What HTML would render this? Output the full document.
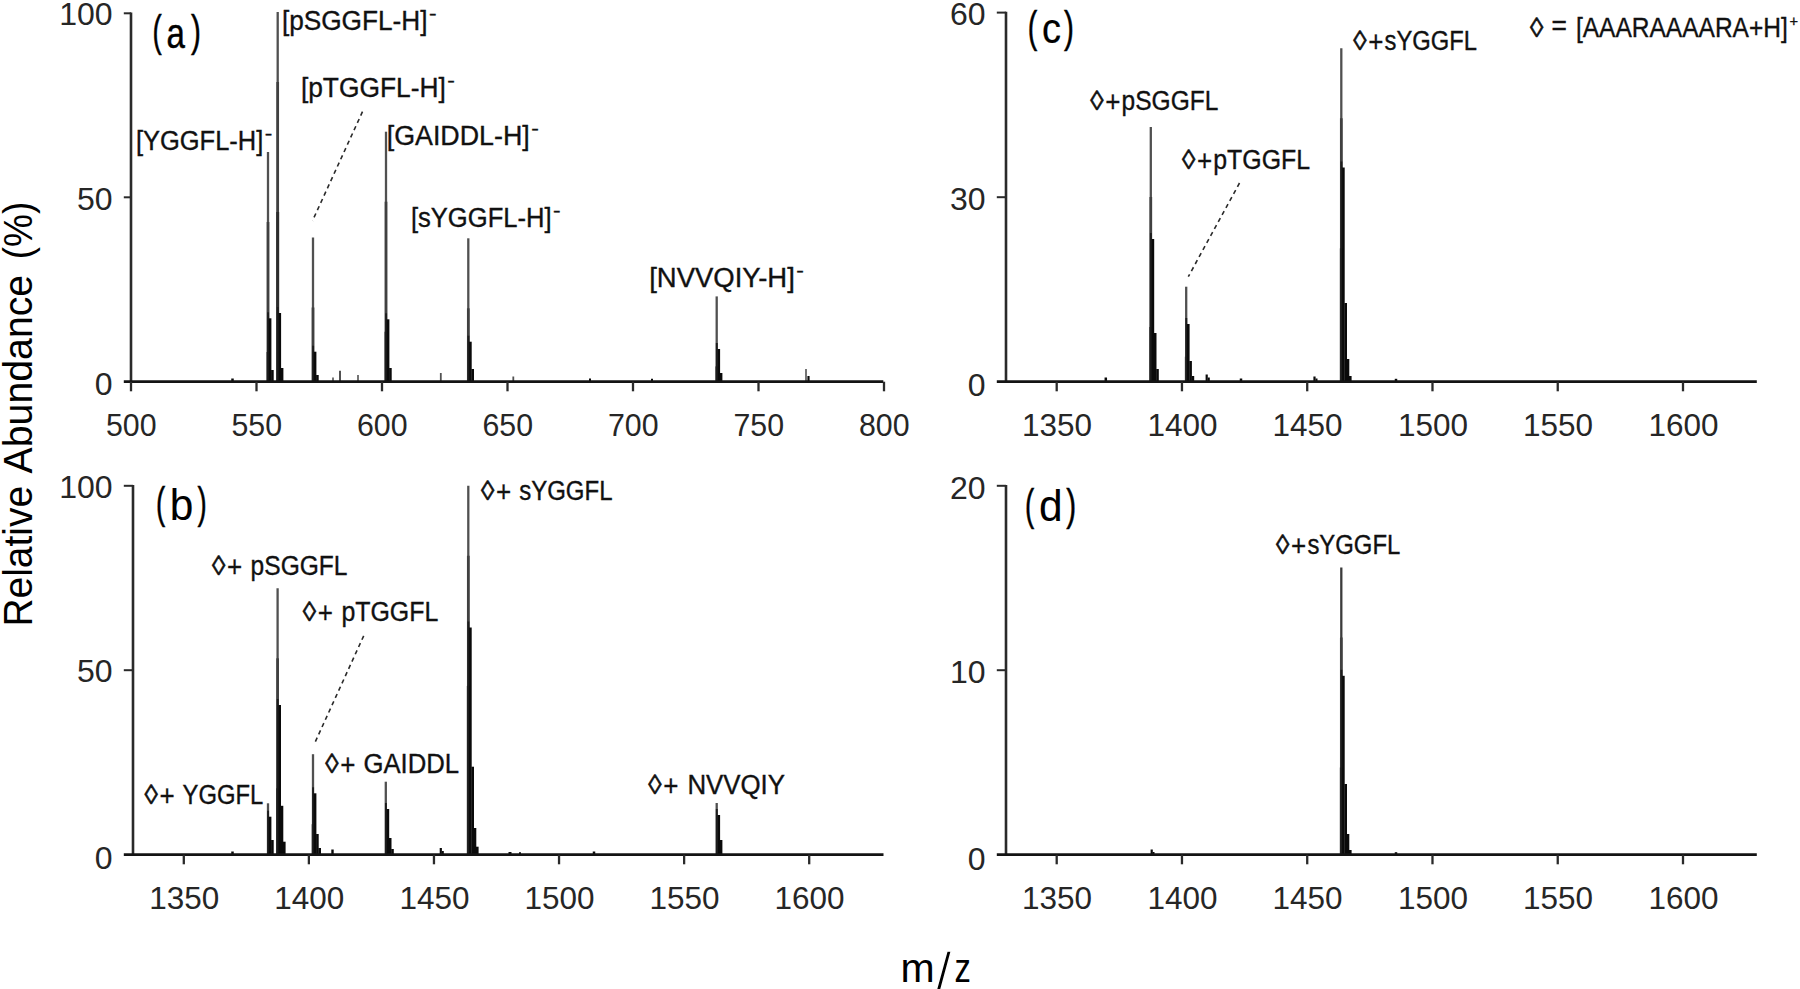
<!DOCTYPE html>
<html lang="en">
<head>
<meta charset="utf-8">
<title>Mass spectra</title>
<style>
html,body{margin:0;padding:0;background:#fff;}
body{width:1800px;height:989px;overflow:hidden;}
svg{display:block;font-family:"Liberation Sans", sans-serif;}
</style>
</head>
<body>
<svg width="1800" height="989" viewBox="0 0 1800 989">
<rect width="1800" height="989" fill="#ffffff"/>
<line x1="268.00" y1="152.00" x2="268.00" y2="381.70" stroke="#505050" stroke-width="2.3" />
<line x1="268.00" y1="222.00" x2="268.00" y2="381.70" stroke="#404040" stroke-width="2.7" />
<line x1="268.00" y1="352.00" x2="268.00" y2="381.70" stroke="#2c2c2c" stroke-width="2.9" />
<line x1="268.10" y1="312.30" x2="268.10" y2="381.70" stroke="#1c1c1c" stroke-width="1.9" />
<line x1="270.10" y1="318.30" x2="270.10" y2="381.70" stroke="#0a0a0a" stroke-width="2.6" />
<line x1="272.40" y1="370.00" x2="272.40" y2="381.70" stroke="#0a0a0a" stroke-width="2.6" />
<line x1="277.70" y1="12.00" x2="277.70" y2="381.70" stroke="#505050" stroke-width="2.3" />
<line x1="277.70" y1="82.00" x2="277.70" y2="381.70" stroke="#404040" stroke-width="2.7" />
<line x1="277.70" y1="212.00" x2="277.70" y2="381.70" stroke="#2c2c2c" stroke-width="2.9" />
<line x1="277.80" y1="307.00" x2="277.80" y2="381.70" stroke="#1c1c1c" stroke-width="1.9" />
<line x1="279.80" y1="313.00" x2="279.80" y2="381.70" stroke="#0a0a0a" stroke-width="2.6" />
<line x1="282.10" y1="368.00" x2="282.10" y2="381.70" stroke="#0a0a0a" stroke-width="2.6" />
<line x1="313.00" y1="237.50" x2="313.00" y2="381.70" stroke="#505050" stroke-width="2.3" />
<line x1="313.00" y1="307.50" x2="313.00" y2="381.70" stroke="#404040" stroke-width="2.7" />
<line x1="313.10" y1="345.70" x2="313.10" y2="381.70" stroke="#1c1c1c" stroke-width="1.9" />
<line x1="315.10" y1="351.70" x2="315.10" y2="381.70" stroke="#0a0a0a" stroke-width="2.6" />
<line x1="317.40" y1="375.00" x2="317.40" y2="381.70" stroke="#0a0a0a" stroke-width="2.6" />
<line x1="386.00" y1="131.70" x2="386.00" y2="381.70" stroke="#505050" stroke-width="2.3" />
<line x1="386.00" y1="201.70" x2="386.00" y2="381.70" stroke="#404040" stroke-width="2.7" />
<line x1="386.00" y1="331.70" x2="386.00" y2="381.70" stroke="#2c2c2c" stroke-width="2.9" />
<line x1="386.10" y1="313.30" x2="386.10" y2="381.70" stroke="#1c1c1c" stroke-width="1.9" />
<line x1="388.10" y1="319.30" x2="388.10" y2="381.70" stroke="#0a0a0a" stroke-width="2.6" />
<line x1="390.40" y1="368.00" x2="390.40" y2="381.70" stroke="#0a0a0a" stroke-width="2.6" />
<line x1="468.30" y1="238.30" x2="468.30" y2="381.70" stroke="#505050" stroke-width="2.3" />
<line x1="468.30" y1="308.30" x2="468.30" y2="381.70" stroke="#404040" stroke-width="2.7" />
<line x1="468.40" y1="335.70" x2="468.40" y2="381.70" stroke="#1c1c1c" stroke-width="1.9" />
<line x1="470.40" y1="341.70" x2="470.40" y2="381.70" stroke="#0a0a0a" stroke-width="2.6" />
<line x1="472.70" y1="369.00" x2="472.70" y2="381.70" stroke="#0a0a0a" stroke-width="2.6" />
<line x1="716.70" y1="296.40" x2="716.70" y2="381.70" stroke="#505050" stroke-width="2.3" />
<line x1="716.70" y1="366.40" x2="716.70" y2="381.70" stroke="#404040" stroke-width="2.7" />
<line x1="716.80" y1="343.00" x2="716.80" y2="381.70" stroke="#1c1c1c" stroke-width="1.9" />
<line x1="718.80" y1="349.00" x2="718.80" y2="381.70" stroke="#0a0a0a" stroke-width="2.6" />
<line x1="721.10" y1="373.00" x2="721.10" y2="381.70" stroke="#0a0a0a" stroke-width="2.6" />
<line x1="806.00" y1="369.00" x2="806.00" y2="381.70" stroke="#525252" stroke-width="1.6" />
<line x1="808.50" y1="376.00" x2="808.50" y2="381.70" stroke="#0a0a0a" stroke-width="2.2" />
<line x1="340.00" y1="370.80" x2="340.00" y2="381.70" stroke="#525252" stroke-width="2.0" />
<line x1="358.00" y1="375.00" x2="358.00" y2="381.70" stroke="#525252" stroke-width="1.6" />
<line x1="333.00" y1="377.50" x2="333.00" y2="381.70" stroke="#525252" stroke-width="1.6" />
<line x1="232.50" y1="378.50" x2="232.50" y2="381.70" stroke="#0a0a0a" stroke-width="2.5" />
<line x1="440.80" y1="373.00" x2="440.80" y2="381.70" stroke="#525252" stroke-width="1.8" />
<line x1="513.30" y1="376.50" x2="513.30" y2="381.70" stroke="#525252" stroke-width="1.8" />
<line x1="590.00" y1="378.50" x2="590.00" y2="381.70" stroke="#0a0a0a" stroke-width="2" />
<line x1="652.00" y1="378.80" x2="652.00" y2="381.70" stroke="#0a0a0a" stroke-width="2" />
<line x1="131.00" y1="12.40" x2="131.00" y2="382.70" stroke="#2a2a2a" stroke-width="2.6" />
<line x1="123.80" y1="381.70" x2="883.30" y2="381.70" stroke="#141414" stroke-width="2.8" />
<line x1="123.80" y1="13.30" x2="131.00" y2="13.30" stroke="#2a2a2a" stroke-width="2.0" />
<text x="112.6" y="25.2" font-size="32" text-anchor="end" fill="#262626" >100</text>
<line x1="123.80" y1="197.30" x2="131.00" y2="197.30" stroke="#2a2a2a" stroke-width="2.0" />
<text x="112.6" y="209.6" font-size="32" text-anchor="end" fill="#262626" >50</text>
<text x="112.6" y="395.4" font-size="32" text-anchor="end" fill="#262626" >0</text>
<line x1="131.00" y1="381.70" x2="131.00" y2="391.30" stroke="#2a2a2a" stroke-width="2.3" />
<text x="106.0" y="435.6" font-size="32" text-anchor="start" fill="#262626" textLength="50.6" lengthAdjust="spacingAndGlyphs" >500</text>
<line x1="256.50" y1="381.70" x2="256.50" y2="391.30" stroke="#2a2a2a" stroke-width="2.3" />
<text x="231.5" y="435.6" font-size="32" text-anchor="start" fill="#262626" textLength="50.6" lengthAdjust="spacingAndGlyphs" >550</text>
<line x1="382.00" y1="381.70" x2="382.00" y2="391.30" stroke="#2a2a2a" stroke-width="2.3" />
<text x="357.0" y="435.6" font-size="32" text-anchor="start" fill="#262626" textLength="50.6" lengthAdjust="spacingAndGlyphs" >600</text>
<line x1="507.50" y1="381.70" x2="507.50" y2="391.30" stroke="#2a2a2a" stroke-width="2.3" />
<text x="482.5" y="435.6" font-size="32" text-anchor="start" fill="#262626" textLength="50.6" lengthAdjust="spacingAndGlyphs" >650</text>
<line x1="633.00" y1="381.70" x2="633.00" y2="391.30" stroke="#2a2a2a" stroke-width="2.3" />
<text x="608.0" y="435.6" font-size="32" text-anchor="start" fill="#262626" textLength="50.6" lengthAdjust="spacingAndGlyphs" >700</text>
<line x1="758.50" y1="381.70" x2="758.50" y2="391.30" stroke="#2a2a2a" stroke-width="2.3" />
<text x="733.5" y="435.6" font-size="32" text-anchor="start" fill="#262626" textLength="50.6" lengthAdjust="spacingAndGlyphs" >750</text>
<line x1="884.00" y1="381.70" x2="884.00" y2="391.30" stroke="#2a2a2a" stroke-width="2.3" />
<text x="859.0" y="435.6" font-size="32" text-anchor="start" fill="#262626" textLength="50.6" lengthAdjust="spacingAndGlyphs" >800</text>
<line x1="268.00" y1="803.30" x2="268.00" y2="854.70" stroke="#505050" stroke-width="2.3" />
<line x1="268.10" y1="810.70" x2="268.10" y2="854.70" stroke="#1c1c1c" stroke-width="1.9" />
<line x1="270.10" y1="816.70" x2="270.10" y2="854.70" stroke="#0a0a0a" stroke-width="2.6" />
<line x1="272.40" y1="840.00" x2="272.40" y2="854.70" stroke="#0a0a0a" stroke-width="2.6" />
<line x1="277.60" y1="588.30" x2="277.60" y2="854.70" stroke="#505050" stroke-width="2.3" />
<line x1="277.60" y1="658.30" x2="277.60" y2="854.70" stroke="#404040" stroke-width="2.7" />
<line x1="277.60" y1="788.30" x2="277.60" y2="854.70" stroke="#2c2c2c" stroke-width="2.9" />
<line x1="277.70" y1="699.00" x2="277.70" y2="854.70" stroke="#1c1c1c" stroke-width="1.9" />
<line x1="279.70" y1="705.00" x2="279.70" y2="854.70" stroke="#0a0a0a" stroke-width="2.6" />
<line x1="282.00" y1="805.80" x2="282.00" y2="854.70" stroke="#0a0a0a" stroke-width="2.6" />
<line x1="284.30" y1="841.70" x2="284.30" y2="854.70" stroke="#0a0a0a" stroke-width="2.6" />
<line x1="313.00" y1="754.20" x2="313.00" y2="854.70" stroke="#505050" stroke-width="2.3" />
<line x1="313.00" y1="824.20" x2="313.00" y2="854.70" stroke="#404040" stroke-width="2.7" />
<line x1="313.10" y1="787.30" x2="313.10" y2="854.70" stroke="#1c1c1c" stroke-width="1.9" />
<line x1="315.10" y1="793.30" x2="315.10" y2="854.70" stroke="#0a0a0a" stroke-width="2.6" />
<line x1="317.40" y1="834.00" x2="317.40" y2="854.70" stroke="#0a0a0a" stroke-width="2.6" />
<line x1="319.70" y1="848.00" x2="319.70" y2="854.70" stroke="#0a0a0a" stroke-width="2.6" />
<line x1="385.80" y1="781.70" x2="385.80" y2="854.70" stroke="#505050" stroke-width="2.3" />
<line x1="385.90" y1="803.00" x2="385.90" y2="854.70" stroke="#1c1c1c" stroke-width="1.9" />
<line x1="387.90" y1="809.00" x2="387.90" y2="854.70" stroke="#0a0a0a" stroke-width="2.6" />
<line x1="390.20" y1="838.00" x2="390.20" y2="854.70" stroke="#0a0a0a" stroke-width="2.6" />
<line x1="392.50" y1="849.00" x2="392.50" y2="854.70" stroke="#0a0a0a" stroke-width="2.6" />
<line x1="468.30" y1="485.80" x2="468.30" y2="854.70" stroke="#505050" stroke-width="2.3" />
<line x1="468.30" y1="555.80" x2="468.30" y2="854.70" stroke="#404040" stroke-width="2.7" />
<line x1="468.30" y1="685.80" x2="468.30" y2="854.70" stroke="#2c2c2c" stroke-width="2.9" />
<line x1="468.40" y1="621.50" x2="468.40" y2="854.70" stroke="#1c1c1c" stroke-width="1.9" />
<line x1="470.40" y1="627.50" x2="470.40" y2="854.70" stroke="#0a0a0a" stroke-width="2.6" />
<line x1="472.70" y1="766.70" x2="472.70" y2="854.70" stroke="#0a0a0a" stroke-width="2.6" />
<line x1="475.00" y1="828.00" x2="475.00" y2="854.70" stroke="#0a0a0a" stroke-width="2.6" />
<line x1="477.30" y1="846.70" x2="477.30" y2="854.70" stroke="#0a0a0a" stroke-width="2.6" />
<line x1="716.70" y1="803.00" x2="716.70" y2="854.70" stroke="#505050" stroke-width="2.3" />
<line x1="716.80" y1="809.00" x2="716.80" y2="854.70" stroke="#1c1c1c" stroke-width="1.9" />
<line x1="718.80" y1="815.00" x2="718.80" y2="854.70" stroke="#0a0a0a" stroke-width="2.6" />
<line x1="721.10" y1="840.00" x2="721.10" y2="854.70" stroke="#0a0a0a" stroke-width="2.6" />
<line x1="332.50" y1="849.50" x2="332.50" y2="854.70" stroke="#0a0a0a" stroke-width="2.4" />
<line x1="440.80" y1="848.00" x2="440.80" y2="854.70" stroke="#0a0a0a" stroke-width="2.2" />
<line x1="442.80" y1="851.00" x2="442.80" y2="854.70" stroke="#0a0a0a" stroke-width="2" />
<line x1="232.50" y1="851.50" x2="232.50" y2="854.70" stroke="#0a0a0a" stroke-width="2.5" />
<line x1="510.00" y1="852.00" x2="510.00" y2="854.70" stroke="#0a0a0a" stroke-width="3" />
<line x1="594.00" y1="851.50" x2="594.00" y2="854.70" stroke="#0a0a0a" stroke-width="2.5" />
<line x1="520.00" y1="852.30" x2="520.00" y2="854.70" stroke="#0a0a0a" stroke-width="2" />
<line x1="133.00" y1="484.90" x2="133.00" y2="855.70" stroke="#2a2a2a" stroke-width="2.6" />
<line x1="123.80" y1="854.70" x2="883.50" y2="854.70" stroke="#141414" stroke-width="2.8" />
<line x1="123.80" y1="485.80" x2="133.00" y2="485.80" stroke="#2a2a2a" stroke-width="2.0" />
<text x="112.6" y="498.0" font-size="32" text-anchor="end" fill="#262626" >100</text>
<line x1="123.80" y1="670.20" x2="133.00" y2="670.20" stroke="#2a2a2a" stroke-width="2.0" />
<text x="112.6" y="682.2" font-size="32" text-anchor="end" fill="#262626" >50</text>
<text x="112.6" y="868.8" font-size="32" text-anchor="end" fill="#262626" >0</text>
<line x1="183.80" y1="854.70" x2="183.80" y2="864.30" stroke="#2a2a2a" stroke-width="2.3" />
<text x="149.2" y="909.3" font-size="32" text-anchor="start" fill="#262626" textLength="70.0" lengthAdjust="spacingAndGlyphs" >1350</text>
<line x1="308.88" y1="854.70" x2="308.88" y2="864.30" stroke="#2a2a2a" stroke-width="2.3" />
<text x="274.3" y="909.3" font-size="32" text-anchor="start" fill="#262626" textLength="70.0" lengthAdjust="spacingAndGlyphs" >1400</text>
<line x1="433.96" y1="854.70" x2="433.96" y2="864.30" stroke="#2a2a2a" stroke-width="2.3" />
<text x="399.4" y="909.3" font-size="32" text-anchor="start" fill="#262626" textLength="70.0" lengthAdjust="spacingAndGlyphs" >1450</text>
<line x1="559.04" y1="854.70" x2="559.04" y2="864.30" stroke="#2a2a2a" stroke-width="2.3" />
<text x="524.4" y="909.3" font-size="32" text-anchor="start" fill="#262626" textLength="70.0" lengthAdjust="spacingAndGlyphs" >1500</text>
<line x1="684.12" y1="854.70" x2="684.12" y2="864.30" stroke="#2a2a2a" stroke-width="2.3" />
<text x="649.5" y="909.3" font-size="32" text-anchor="start" fill="#262626" textLength="70.0" lengthAdjust="spacingAndGlyphs" >1550</text>
<line x1="809.20" y1="854.70" x2="809.20" y2="864.30" stroke="#2a2a2a" stroke-width="2.3" />
<text x="774.6" y="909.3" font-size="32" text-anchor="start" fill="#262626" textLength="70.0" lengthAdjust="spacingAndGlyphs" >1600</text>
<line x1="1150.80" y1="127.00" x2="1150.80" y2="381.70" stroke="#505050" stroke-width="2.3" />
<line x1="1150.80" y1="197.00" x2="1150.80" y2="381.70" stroke="#404040" stroke-width="2.7" />
<line x1="1150.80" y1="327.00" x2="1150.80" y2="381.70" stroke="#2c2c2c" stroke-width="2.9" />
<line x1="1150.90" y1="233.00" x2="1150.90" y2="381.70" stroke="#1c1c1c" stroke-width="1.9" />
<line x1="1152.90" y1="239.00" x2="1152.90" y2="381.70" stroke="#0a0a0a" stroke-width="2.6" />
<line x1="1155.20" y1="333.00" x2="1155.20" y2="381.70" stroke="#0a0a0a" stroke-width="2.6" />
<line x1="1157.50" y1="369.00" x2="1157.50" y2="381.70" stroke="#0a0a0a" stroke-width="2.6" />
<line x1="1186.20" y1="286.70" x2="1186.20" y2="381.70" stroke="#505050" stroke-width="2.3" />
<line x1="1186.20" y1="356.70" x2="1186.20" y2="381.70" stroke="#404040" stroke-width="2.7" />
<line x1="1186.30" y1="318.00" x2="1186.30" y2="381.70" stroke="#1c1c1c" stroke-width="1.9" />
<line x1="1188.30" y1="324.00" x2="1188.30" y2="381.70" stroke="#0a0a0a" stroke-width="2.6" />
<line x1="1190.60" y1="361.00" x2="1190.60" y2="381.70" stroke="#0a0a0a" stroke-width="2.6" />
<line x1="1192.90" y1="376.00" x2="1192.90" y2="381.70" stroke="#0a0a0a" stroke-width="2.6" />
<line x1="1341.30" y1="48.30" x2="1341.30" y2="381.70" stroke="#505050" stroke-width="2.3" />
<line x1="1341.30" y1="118.30" x2="1341.30" y2="381.70" stroke="#404040" stroke-width="2.7" />
<line x1="1341.30" y1="248.30" x2="1341.30" y2="381.70" stroke="#2c2c2c" stroke-width="2.9" />
<line x1="1341.40" y1="161.50" x2="1341.40" y2="381.70" stroke="#1c1c1c" stroke-width="1.9" />
<line x1="1343.40" y1="167.50" x2="1343.40" y2="381.70" stroke="#0a0a0a" stroke-width="2.6" />
<line x1="1345.70" y1="303.00" x2="1345.70" y2="381.70" stroke="#0a0a0a" stroke-width="2.6" />
<line x1="1348.00" y1="359.00" x2="1348.00" y2="381.70" stroke="#0a0a0a" stroke-width="2.6" />
<line x1="1350.30" y1="376.00" x2="1350.30" y2="381.70" stroke="#0a0a0a" stroke-width="2.6" />
<line x1="1105.80" y1="377.50" x2="1105.80" y2="381.70" stroke="#0a0a0a" stroke-width="2.5" />
<line x1="1206.70" y1="374.50" x2="1206.70" y2="381.70" stroke="#0a0a0a" stroke-width="2.2" />
<line x1="1208.80" y1="377.50" x2="1208.80" y2="381.70" stroke="#0a0a0a" stroke-width="2" />
<line x1="1241.00" y1="378.50" x2="1241.00" y2="381.70" stroke="#0a0a0a" stroke-width="2.5" />
<line x1="1314.50" y1="376.50" x2="1314.50" y2="381.70" stroke="#0a0a0a" stroke-width="2.2" />
<line x1="1316.50" y1="378.50" x2="1316.50" y2="381.70" stroke="#0a0a0a" stroke-width="2" />
<line x1="1396.00" y1="378.80" x2="1396.00" y2="381.70" stroke="#0a0a0a" stroke-width="2.5" />
<line x1="1006.00" y1="11.70" x2="1006.00" y2="382.70" stroke="#2a2a2a" stroke-width="2.6" />
<line x1="996.80" y1="381.70" x2="1756.80" y2="381.70" stroke="#141414" stroke-width="2.8" />
<line x1="996.80" y1="12.60" x2="1006.00" y2="12.60" stroke="#2a2a2a" stroke-width="2.0" />
<text x="985.6" y="25.3" font-size="32" text-anchor="end" fill="#262626" >60</text>
<line x1="996.80" y1="197.20" x2="1006.00" y2="197.20" stroke="#2a2a2a" stroke-width="2.0" />
<text x="985.6" y="210.0" font-size="32" text-anchor="end" fill="#262626" >30</text>
<text x="985.6" y="396.2" font-size="32" text-anchor="end" fill="#262626" >0</text>
<line x1="1056.70" y1="381.70" x2="1056.70" y2="391.30" stroke="#2a2a2a" stroke-width="2.3" />
<text x="1022.1" y="436.3" font-size="32" text-anchor="start" fill="#262626" textLength="70.0" lengthAdjust="spacingAndGlyphs" >1350</text>
<line x1="1181.96" y1="381.70" x2="1181.96" y2="391.30" stroke="#2a2a2a" stroke-width="2.3" />
<text x="1147.4" y="436.3" font-size="32" text-anchor="start" fill="#262626" textLength="70.0" lengthAdjust="spacingAndGlyphs" >1400</text>
<line x1="1307.22" y1="381.70" x2="1307.22" y2="391.30" stroke="#2a2a2a" stroke-width="2.3" />
<text x="1272.6" y="436.3" font-size="32" text-anchor="start" fill="#262626" textLength="70.0" lengthAdjust="spacingAndGlyphs" >1450</text>
<line x1="1432.48" y1="381.70" x2="1432.48" y2="391.30" stroke="#2a2a2a" stroke-width="2.3" />
<text x="1397.9" y="436.3" font-size="32" text-anchor="start" fill="#262626" textLength="70.0" lengthAdjust="spacingAndGlyphs" >1500</text>
<line x1="1557.74" y1="381.70" x2="1557.74" y2="391.30" stroke="#2a2a2a" stroke-width="2.3" />
<text x="1523.1" y="436.3" font-size="32" text-anchor="start" fill="#262626" textLength="70.0" lengthAdjust="spacingAndGlyphs" >1550</text>
<line x1="1683.00" y1="381.70" x2="1683.00" y2="391.30" stroke="#2a2a2a" stroke-width="2.3" />
<text x="1648.4" y="436.3" font-size="32" text-anchor="start" fill="#262626" textLength="70.0" lengthAdjust="spacingAndGlyphs" >1600</text>
<line x1="1341.30" y1="567.50" x2="1341.30" y2="854.70" stroke="#3c3c3c" stroke-width="2.3" />
<line x1="1341.30" y1="637.50" x2="1341.30" y2="854.70" stroke="#404040" stroke-width="2.7" />
<line x1="1341.30" y1="767.50" x2="1341.30" y2="854.70" stroke="#2c2c2c" stroke-width="2.9" />
<line x1="1341.40" y1="669.80" x2="1341.40" y2="854.70" stroke="#1c1c1c" stroke-width="1.9" />
<line x1="1343.40" y1="675.80" x2="1343.40" y2="854.70" stroke="#0a0a0a" stroke-width="2.6" />
<line x1="1345.70" y1="784.00" x2="1345.70" y2="854.70" stroke="#0a0a0a" stroke-width="2.6" />
<line x1="1348.00" y1="834.00" x2="1348.00" y2="854.70" stroke="#0a0a0a" stroke-width="2.6" />
<line x1="1350.30" y1="850.00" x2="1350.30" y2="854.70" stroke="#0a0a0a" stroke-width="2.6" />
<line x1="1151.70" y1="849.50" x2="1151.70" y2="854.70" stroke="#0a0a0a" stroke-width="2.2" />
<line x1="1153.50" y1="852.00" x2="1153.50" y2="854.70" stroke="#0a0a0a" stroke-width="2" />
<line x1="1396.00" y1="852.20" x2="1396.00" y2="854.70" stroke="#0a0a0a" stroke-width="2.5" />
<line x1="1006.00" y1="484.90" x2="1006.00" y2="855.70" stroke="#2a2a2a" stroke-width="2.6" />
<line x1="996.80" y1="854.70" x2="1756.80" y2="854.70" stroke="#141414" stroke-width="2.8" />
<line x1="996.80" y1="485.80" x2="1006.00" y2="485.80" stroke="#2a2a2a" stroke-width="2.0" />
<text x="985.6" y="498.7" font-size="32" text-anchor="end" fill="#262626" >20</text>
<line x1="996.80" y1="670.20" x2="1006.00" y2="670.20" stroke="#2a2a2a" stroke-width="2.0" />
<text x="985.6" y="683.2" font-size="32" text-anchor="end" fill="#262626" >10</text>
<text x="985.6" y="869.9" font-size="32" text-anchor="end" fill="#262626" >0</text>
<line x1="1056.70" y1="854.70" x2="1056.70" y2="864.30" stroke="#2a2a2a" stroke-width="2.3" />
<text x="1022.1" y="909.3" font-size="32" text-anchor="start" fill="#262626" textLength="70.0" lengthAdjust="spacingAndGlyphs" >1350</text>
<line x1="1181.96" y1="854.70" x2="1181.96" y2="864.30" stroke="#2a2a2a" stroke-width="2.3" />
<text x="1147.4" y="909.3" font-size="32" text-anchor="start" fill="#262626" textLength="70.0" lengthAdjust="spacingAndGlyphs" >1400</text>
<line x1="1307.22" y1="854.70" x2="1307.22" y2="864.30" stroke="#2a2a2a" stroke-width="2.3" />
<text x="1272.6" y="909.3" font-size="32" text-anchor="start" fill="#262626" textLength="70.0" lengthAdjust="spacingAndGlyphs" >1450</text>
<line x1="1432.48" y1="854.70" x2="1432.48" y2="864.30" stroke="#2a2a2a" stroke-width="2.3" />
<text x="1397.9" y="909.3" font-size="32" text-anchor="start" fill="#262626" textLength="70.0" lengthAdjust="spacingAndGlyphs" >1500</text>
<line x1="1557.74" y1="854.70" x2="1557.74" y2="864.30" stroke="#2a2a2a" stroke-width="2.3" />
<text x="1523.1" y="909.3" font-size="32" text-anchor="start" fill="#262626" textLength="70.0" lengthAdjust="spacingAndGlyphs" >1550</text>
<line x1="1683.00" y1="854.70" x2="1683.00" y2="864.30" stroke="#2a2a2a" stroke-width="2.3" />
<text x="1648.4" y="909.3" font-size="32" text-anchor="start" fill="#262626" textLength="70.0" lengthAdjust="spacingAndGlyphs" >1600</text>
<line x1="362.50" y1="111.70" x2="312.50" y2="220.80" stroke="#2a2a2a" stroke-width="1.6" stroke-dasharray="4.3 3.7"/>
<line x1="363.70" y1="635.80" x2="314.20" y2="744.20" stroke="#2a2a2a" stroke-width="1.6" stroke-dasharray="4.3 3.7"/>
<line x1="1239.50" y1="183.00" x2="1188.30" y2="276.70" stroke="#2a2a2a" stroke-width="1.6" stroke-dasharray="4.3 3.7"/>
<text><tspan x="281.9" y="29.9" font-size="27" text-anchor="start" fill="#111" textLength="145.6" lengthAdjust="spacingAndGlyphs" stroke="#111" stroke-width="0.35">[pSGGFL-H]</tspan><tspan x="428.9" y="18.6" font-size="17" text-anchor="start" fill="#111" textLength="7.6" lengthAdjust="spacingAndGlyphs" stroke="#111" stroke-width="0.3">-</tspan></text>
<text><tspan x="300.9" y="96.9" font-size="27" text-anchor="start" fill="#111" textLength="144.9" lengthAdjust="spacingAndGlyphs" stroke="#111" stroke-width="0.35">[pTGGFL-H]</tspan><tspan x="447.2" y="85.6" font-size="17" text-anchor="start" fill="#111" textLength="7.6" lengthAdjust="spacingAndGlyphs" stroke="#111" stroke-width="0.3">-</tspan></text>
<text><tspan x="135.9" y="150.2" font-size="27" text-anchor="start" fill="#111" textLength="127.4" lengthAdjust="spacingAndGlyphs" stroke="#111" stroke-width="0.35">[YGGFL-H]</tspan><tspan x="264.7" y="138.9" font-size="17" text-anchor="start" fill="#111" textLength="7.6" lengthAdjust="spacingAndGlyphs" stroke="#111" stroke-width="0.3">-</tspan></text>
<text><tspan x="386.7" y="145.2" font-size="27" text-anchor="start" fill="#111" textLength="143.1" lengthAdjust="spacingAndGlyphs" stroke="#111" stroke-width="0.35">[GAIDDL-H]</tspan><tspan x="531.2" y="133.9" font-size="17" text-anchor="start" fill="#111" textLength="7.6" lengthAdjust="spacingAndGlyphs" stroke="#111" stroke-width="0.3">-</tspan></text>
<text><tspan x="410.9" y="226.9" font-size="27" text-anchor="start" fill="#111" textLength="140.7" lengthAdjust="spacingAndGlyphs" stroke="#111" stroke-width="0.35">[sYGGFL-H]</tspan><tspan x="553.0" y="215.6" font-size="17" text-anchor="start" fill="#111" textLength="7.6" lengthAdjust="spacingAndGlyphs" stroke="#111" stroke-width="0.3">-</tspan></text>
<text><tspan x="649.2" y="286.9" font-size="27" text-anchor="start" fill="#111" textLength="145.6" lengthAdjust="spacingAndGlyphs" stroke="#111" stroke-width="0.35">[NVVQIY-H]</tspan><tspan x="796.2" y="275.6" font-size="17" text-anchor="start" fill="#111" textLength="7.6" lengthAdjust="spacingAndGlyphs" stroke="#111" stroke-width="0.3">-</tspan></text>
<text><tspan x="212.0" y="575.0" font-size="27.8" text-anchor="start" fill="#111" textLength="13.3" lengthAdjust="spacingAndGlyphs" stroke="#111" stroke-width="0.6">&#9674;</tspan><tspan x="227.0" y="577.1" font-size="30" text-anchor="start" fill="#111" textLength="15.2" lengthAdjust="spacingAndGlyphs" stroke="#111" stroke-width="0.3">+</tspan><tspan> </tspan><tspan x="250.6" y="575.0" font-size="27" text-anchor="start" fill="#111" textLength="96.9" lengthAdjust="spacingAndGlyphs" stroke="#111" stroke-width="0.35">pSGGFL</tspan></text>
<text><tspan x="302.8" y="621.0" font-size="27.8" text-anchor="start" fill="#111" textLength="13.3" lengthAdjust="spacingAndGlyphs" stroke="#111" stroke-width="0.6">&#9674;</tspan><tspan x="317.8" y="623.1" font-size="30" text-anchor="start" fill="#111" textLength="15.2" lengthAdjust="spacingAndGlyphs" stroke="#111" stroke-width="0.3">+</tspan><tspan> </tspan><tspan x="341.4" y="621.0" font-size="27" text-anchor="start" fill="#111" textLength="96.9" lengthAdjust="spacingAndGlyphs" stroke="#111" stroke-width="0.35">pTGGFL</tspan></text>
<text><tspan x="144.5" y="804.2" font-size="27.8" text-anchor="start" fill="#111" textLength="13.3" lengthAdjust="spacingAndGlyphs" stroke="#111" stroke-width="0.6">&#9674;</tspan><tspan x="159.5" y="806.3" font-size="30" text-anchor="start" fill="#111" textLength="15.2" lengthAdjust="spacingAndGlyphs" stroke="#111" stroke-width="0.3">+</tspan><tspan> </tspan><tspan x="182.6" y="804.2" font-size="27" text-anchor="start" fill="#111" textLength="80.7" lengthAdjust="spacingAndGlyphs" stroke="#111" stroke-width="0.35">YGGFL</tspan></text>
<text><tspan x="325.3" y="773.0" font-size="27.8" text-anchor="start" fill="#111" textLength="13.3" lengthAdjust="spacingAndGlyphs" stroke="#111" stroke-width="0.6">&#9674;</tspan><tspan x="340.3" y="775.1" font-size="30" text-anchor="start" fill="#111" textLength="15.2" lengthAdjust="spacingAndGlyphs" stroke="#111" stroke-width="0.3">+</tspan><tspan> </tspan><tspan x="363.4" y="773.0" font-size="27" text-anchor="start" fill="#111" textLength="95.7" lengthAdjust="spacingAndGlyphs" stroke="#111" stroke-width="0.35">GAIDDL</tspan></text>
<text><tspan x="481.1" y="499.7" font-size="27.8" text-anchor="start" fill="#111" textLength="13.3" lengthAdjust="spacingAndGlyphs" stroke="#111" stroke-width="0.6">&#9674;</tspan><tspan x="496.1" y="501.8" font-size="30" text-anchor="start" fill="#111" textLength="15.2" lengthAdjust="spacingAndGlyphs" stroke="#111" stroke-width="0.3">+</tspan><tspan> </tspan><tspan x="519.2" y="499.7" font-size="27" text-anchor="start" fill="#111" textLength="93.3" lengthAdjust="spacingAndGlyphs" stroke="#111" stroke-width="0.35">sYGGFL</tspan></text>
<text><tspan x="648.3" y="793.7" font-size="27.8" text-anchor="start" fill="#111" textLength="13.3" lengthAdjust="spacingAndGlyphs" stroke="#111" stroke-width="0.6">&#9674;</tspan><tspan x="663.3" y="795.8" font-size="30" text-anchor="start" fill="#111" textLength="15.2" lengthAdjust="spacingAndGlyphs" stroke="#111" stroke-width="0.3">+</tspan><tspan> </tspan><tspan x="687.4" y="793.7" font-size="27" text-anchor="start" fill="#111" textLength="97.6" lengthAdjust="spacingAndGlyphs" stroke="#111" stroke-width="0.35">NVVQIY</tspan></text>
<text><tspan x="1090.3" y="110.0" font-size="27.8" text-anchor="start" fill="#111" textLength="13.3" lengthAdjust="spacingAndGlyphs" stroke="#111" stroke-width="0.6">&#9674;</tspan><tspan x="1105.3" y="112.1" font-size="30" text-anchor="start" fill="#111" textLength="15.2" lengthAdjust="spacingAndGlyphs" stroke="#111" stroke-width="0.3">+</tspan><tspan x="1121.6" y="110.0" font-size="27" text-anchor="start" fill="#111" textLength="96.7" lengthAdjust="spacingAndGlyphs" stroke="#111" stroke-width="0.35">pSGGFL</tspan></text>
<text><tspan x="1182.0" y="169.2" font-size="27.8" text-anchor="start" fill="#111" textLength="13.3" lengthAdjust="spacingAndGlyphs" stroke="#111" stroke-width="0.6">&#9674;</tspan><tspan x="1197.0" y="171.3" font-size="30" text-anchor="start" fill="#111" textLength="15.2" lengthAdjust="spacingAndGlyphs" stroke="#111" stroke-width="0.3">+</tspan><tspan x="1213.3" y="169.2" font-size="27" text-anchor="start" fill="#111" textLength="96.7" lengthAdjust="spacingAndGlyphs" stroke="#111" stroke-width="0.35">pTGGFL</tspan></text>
<text><tspan x="1353.3" y="49.6" font-size="27.8" text-anchor="start" fill="#111" textLength="13.3" lengthAdjust="spacingAndGlyphs" stroke="#111" stroke-width="0.6">&#9674;</tspan><tspan x="1368.3" y="51.7" font-size="30" text-anchor="start" fill="#111" textLength="15.2" lengthAdjust="spacingAndGlyphs" stroke="#111" stroke-width="0.3">+</tspan><tspan x="1384.6" y="49.6" font-size="27" text-anchor="start" fill="#111" textLength="92.4" lengthAdjust="spacingAndGlyphs" stroke="#111" stroke-width="0.35">sYGGFL</tspan></text>
<text><tspan x="1276.1" y="553.7" font-size="27.8" text-anchor="start" fill="#111" textLength="13.3" lengthAdjust="spacingAndGlyphs" stroke="#111" stroke-width="0.6">&#9674;</tspan><tspan x="1291.1" y="555.8" font-size="30" text-anchor="start" fill="#111" textLength="15.2" lengthAdjust="spacingAndGlyphs" stroke="#111" stroke-width="0.3">+</tspan><tspan x="1307.4" y="553.7" font-size="27" text-anchor="start" fill="#111" textLength="92.9" lengthAdjust="spacingAndGlyphs" stroke="#111" stroke-width="0.35">sYGGFL</tspan></text>
<text><tspan x="1530.0" y="36.5" font-size="27.8" text-anchor="start" fill="#111" textLength="13.3" lengthAdjust="spacingAndGlyphs" stroke="#111" stroke-width="0.6">&#9674;</tspan><tspan> </tspan><tspan x="1551.5" y="35.0" font-size="27" text-anchor="start" fill="#111" textLength="15.4" lengthAdjust="spacingAndGlyphs" stroke="#111" stroke-width="0.45">=</tspan><tspan> </tspan><tspan x="1575.9" y="36.5" font-size="27" text-anchor="start" fill="#111" textLength="211.9" lengthAdjust="spacingAndGlyphs" stroke="#111" stroke-width="0.35">[AAARAAAARA+H]</tspan><tspan x="1789.6" y="26.0" font-size="14" text-anchor="start" fill="#111" textLength="8.6" lengthAdjust="spacingAndGlyphs" stroke="#111" stroke-width="0.3">+</tspan></text>
<text><tspan x="152.5" y="46.3" font-size="43.7956204379562" text-anchor="start" fill="#000" textLength="9.2" lengthAdjust="spacingAndGlyphs" stroke="#000" stroke-width="0.55">(</tspan><tspan x="166.5" y="48.0" font-size="42.6" text-anchor="start" fill="#000" textLength="18.4" lengthAdjust="spacingAndGlyphs" stroke="#000" stroke-width="0.49">a</tspan><tspan x="191.0" y="46.3" font-size="43.7956204379562" text-anchor="start" fill="#000" textLength="9.9" lengthAdjust="spacingAndGlyphs" stroke="#000" stroke-width="0.55">)</tspan></text>
<text><tspan x="155.9" y="518.4" font-size="44.11764705882356" text-anchor="start" fill="#000" textLength="9.2" lengthAdjust="spacingAndGlyphs" stroke="#000" stroke-width="0.55">(</tspan><tspan x="169.7" y="519.8" font-size="44.2" text-anchor="start" fill="#000" textLength="23.6" lengthAdjust="spacingAndGlyphs" stroke="#000" stroke-width="0.09">b</tspan><tspan x="197.4" y="518.4" font-size="44.11764705882356" text-anchor="start" fill="#000" textLength="9.2" lengthAdjust="spacingAndGlyphs" stroke="#000" stroke-width="0.55">)</tspan></text>
<text><tspan x="1027.7" y="41.5" font-size="43.7956204379562" text-anchor="start" fill="#000" textLength="9.5" lengthAdjust="spacingAndGlyphs" stroke="#000" stroke-width="0.55">(</tspan><tspan x="1041.9" y="43.1" font-size="42.6" text-anchor="start" fill="#000" textLength="19.0" lengthAdjust="spacingAndGlyphs" stroke="#000" stroke-width="0.24">c</tspan><tspan x="1063.9" y="41.5" font-size="43.7956204379562" text-anchor="start" fill="#000" textLength="9.9" lengthAdjust="spacingAndGlyphs" stroke="#000" stroke-width="0.55">)</tspan></text>
<text><tspan x="1025.1" y="519.9" font-size="44.11764705882356" text-anchor="start" fill="#000" textLength="9.2" lengthAdjust="spacingAndGlyphs" stroke="#000" stroke-width="0.55">(</tspan><tspan x="1039.0" y="521.2" font-size="44.2" text-anchor="start" fill="#000" textLength="23.6" lengthAdjust="spacingAndGlyphs" stroke="#000" stroke-width="0.09">d</tspan><tspan x="1066.3" y="519.9" font-size="44.11764705882356" text-anchor="start" fill="#000" textLength="9.9" lengthAdjust="spacingAndGlyphs" stroke="#000" stroke-width="0.55">)</tspan></text>
<text><tspan x="900.6" y="981.7" font-size="41" text-anchor="start" fill="#000" >m</tspan><tspan x="935.8" y="991.0" font-size="56" text-anchor="start" fill="#000" stroke="#fff" stroke-width="1.3">/</tspan><tspan x="954.6" y="981.7" font-size="41" text-anchor="start" fill="#000" textLength="16.4" lengthAdjust="spacingAndGlyphs" >z</tspan></text>
<text transform="translate(32.2,623.3) rotate(-90)" font-size="40" fill="#000"><tspan x="-3.2" y="0" textLength="140.5" lengthAdjust="spacingAndGlyphs">Relative</tspan><tspan> </tspan><tspan x="149.9" y="0" textLength="198.6" lengthAdjust="spacingAndGlyphs">Abundance</tspan><tspan> </tspan><tspan x="364.0" y="0" textLength="57.6" lengthAdjust="spacingAndGlyphs">(%)</tspan></text>
</svg>
</body>
</html>
